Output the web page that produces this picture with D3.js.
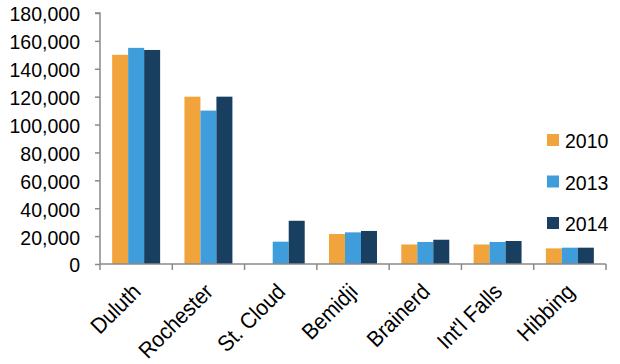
<!DOCTYPE html>
<html>
<head>
<meta charset="utf-8">
<script src="https://cdn.jsdelivr.net/npm/d3@7"></script>
<style>
  body { margin: 0; background: #fff; }
  text { font-family: "Liberation Sans", Arial, sans-serif; fill: #000; }
</style>
</head>
<body>
<svg id="chart" width="620" height="364"></svg>
<script>
"use strict";

var cities = ["Duluth", "Rochester", "St. Cloud", "Bemidji", "Brainerd", "Int'l Falls", "Hibbing"];
var years = ["2010", "2013", "2014"];
var values2010 = [150000, 120000, 0, 21500, 14000, 14000, 11200];
var values2013 = [155000, 110000, 16000, 22700, 15800, 15800, 11700];
var values2014 = [153500, 120000, 31000, 23700, 17400, 16500, 11700];
var yTicks = [0, 20000, 40000, 60000, 80000, 100000, 120000, 140000, 160000, 180000];
var colors = ["#f2a43c", "#3e9dda", "#183f5f"];

var seriesValues = [values2010, values2013, values2014];
var squeeze = 0.93;   // the source text is a little narrow
var svg = d3.select("#chart");

var x = d3.scaleBand().domain(cities).range([100, 606]).padding(0);
var xInner = d3.scaleBand().domain(years).range([0, x.bandwidth()])
    .paddingInner(0).paddingOuter(0.76);
var y = d3.scaleLinear().domain([0, 180000]).range([264, 13]);

// y axis
var yAxis = svg.append("g")
    .attr("transform", "translate(100,0)")
    .call(d3.axisLeft(y).tickValues(yTicks).tickSize(5).tickPadding(15)
        .tickFormat(d3.format(",")));
yAxis.selectAll("path, line").attr("stroke", "#8a8a8a").attr("stroke-width", 1.5);
yAxis.select(".domain").attr("d", "M-5," + y(180000) + "H0V" + y(0));
yAxis.selectAll("text")
    .attr("x", -20 / squeeze)
    .attr("dy", "0.38em")
    .attr("transform", "scale(" + squeeze + ",1)")
    .attr("fill", "#000")
    .style("font-size", "21px")
    .style("font-family", "'Liberation Sans', Arial, sans-serif");

// bars
var groups = svg.append("g").selectAll("g")
    .data(cities)
    .join("g")
    .attr("transform", function (d) { return "translate(" + x(d) + ",0)"; });

groups.selectAll("rect")
    .data(function (d, i) {
        return years.map(function (yr, j) { return { year: yr, value: seriesValues[j][i], k: j }; });
    })
    .join("rect")
    .attr("x", function (d) { return xInner(d.year); })
    .attr("width", xInner.bandwidth())
    .attr("y", function (d) { return y(d.value); })
    .attr("height", function (d) { return y(0) - y(d.value); })
    .attr("fill", function (d) { return colors[d.k]; });

// x axis
var xAxis = svg.append("g").attr("transform", "translate(0," + y(0) + ")");
xAxis.append("line")
    .attr("x1", x.range()[0]).attr("x2", x.range()[1])
    .attr("stroke", "#8a8a8a").attr("stroke-width", 1.5);
var boundaries = cities.map(function (c) { return x(c); }).concat([x.range()[1]]);
xAxis.selectAll(".tick-mark")
    .data(boundaries)
    .join("line")
    .attr("class", "tick-mark")
    .attr("x1", function (d) { return d; }).attr("x2", function (d) { return d; })
    .attr("y1", 0).attr("y2", 6)
    .attr("stroke", "#8a8a8a").attr("stroke-width", 1.5);
xAxis.selectAll(".label")
    .data(cities)
    .join("text")
    .attr("class", "label")
    .attr("transform", function (d) {
        return "translate(" + (x(d) + x.bandwidth() / 2 + 6) + ",29) rotate(-45) scale(" + squeeze + ",1)";
    })
    .attr("text-anchor", "end")
    .style("font-size", "22.3px")
    .text(function (d) { return d; });

// legend
var legend = svg.append("g").selectAll("g")
    .data(years)
    .join("g")
    .attr("transform", function (d, i) { return "translate(547," + (134 + i * 41.5) + ")"; });
legend.append("rect")
    .attr("width", 12).attr("height", 12)
    .attr("fill", function (d, i) { return colors[i]; });
legend.append("text")
    .attr("transform", "scale(" + squeeze + ",1)")
    .attr("x", 18 / squeeze).attr("y", 6).attr("dy", "0.4em")
    .style("font-size", "21px")
    .text(function (d) { return d; });
</script>
</body>
</html>
